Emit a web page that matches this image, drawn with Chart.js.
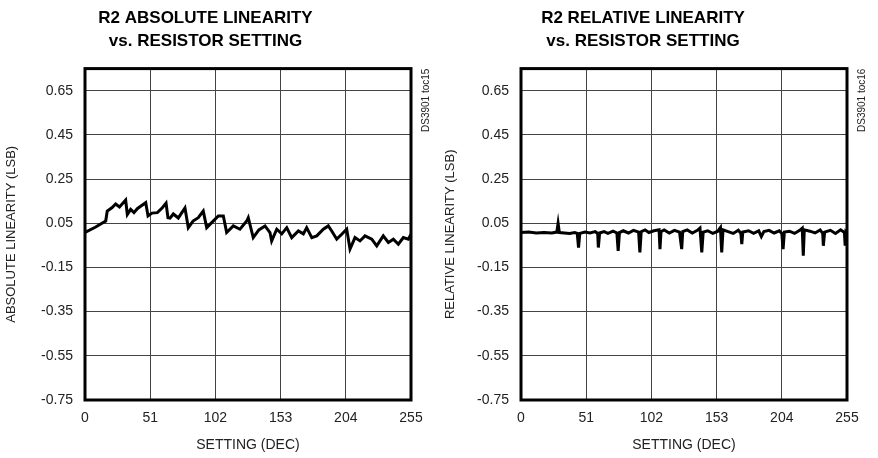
<!DOCTYPE html>
<html>
<head>
<meta charset="utf-8">
<script src="https://cdn.jsdelivr.net/npm/chart.js@4/dist/chart.umd.min.js"></script>
<style>
  body { margin: 0; background: #fff; }
  #wrap { position: relative; width: 878px; height: 458px; }
  canvas { position: absolute; top: 0; }
</style>
</head>
<body>
<div id="wrap">
  <canvas id="absChart" width="439" height="458" style="left:0"></canvas>
  <canvas id="relChart" width="439" height="458" style="left:439px"></canvas>
</div>
<script>
const FONT = '"Liberation Sans Narrow", "Arial Narrow", "Liberation Sans", Arial, sans-serif';

const xTicks = [0, 51, 102, 153, 204, 255];
const yTicks = [-0.75, -0.55, -0.35, -0.15, 0.05, 0.25, 0.45, 0.65, 0.75];

// R2 absolute linearity
const absSetting = [0, 8, 16.2, 17.4, 21, 24, 27, 31.8, 33.1, 35.7, 38.3, 40.9, 43.8, 47.5, 49.3, 52.4, 56.6, 60.5, 63.4,
  64.9, 66.5, 69.1, 73, 78.2, 80.8, 84.5, 88.6, 92.5, 95.2, 99.1, 104.3, 108.2, 110.8, 116, 121.2, 126.5, 127.7,
  131.6, 136, 140.8, 144.7, 146, 150, 153.9, 157.8, 161.7, 166.9, 170.8, 173.4, 177.4, 181.3, 186.4, 190.3, 193,
  196.9, 200.8, 204.7, 207.3, 211.2, 215.1, 219, 224.3, 228.2, 233.3, 237.3, 241.2, 245.1, 249, 252.9, 255];
const absLsb = [0.008, 0.032, 0.060, 0.105, 0.120, 0.137, 0.124, 0.155, 0.090, 0.113, 0.098, 0.116, 0.128, 0.143, 0.083, 0.096, 0.098, 0.120, 0.141,
  0.075, 0.073, 0.092, 0.074, 0.119, 0.030, 0.060, 0.075, 0.105, 0.030, 0.053, 0.083, 0.083, 0.008, 0.038, 0.023, 0.060, 0.075,
  -0.015, 0.020, 0.038, 0.008, -0.030, 0.023, 0.002, 0.030, -0.015, 0.015, 0.002, 0.030, -0.015, -0.007, 0.023, 0.038, 0.015,
  -0.022, 0.000, 0.023, -0.067, -0.015, -0.030, -0.007, -0.022, -0.052, -0.007, -0.037, -0.022, -0.045, -0.015, -0.022, 0.000];

// R2 relative linearity
const relSetting = [0, 6, 12, 18, 24, 28, 29, 30, 34, 38, 42, 44, 45, 46, 50, 54, 58, 60, 60.5, 61.5, 65, 68, 72, 75, 76, 77,
  80, 84, 88, 92, 93, 94, 97, 100, 104, 108, 108.7, 109.5, 112, 116, 120, 124, 125.7, 126.5, 130, 134, 138, 140, 141.4, 142.5,
  146, 150, 154, 156, 157, 158, 162, 166, 170, 172, 172.7, 173.5, 178, 182, 186, 188, 190, 194, 198, 202, 204, 205, 206,
  210, 214, 218, 220, 220.8, 221.6, 226, 230, 234, 236, 236.5, 237.5, 242, 246, 250, 253, 253.5, 254.2, 255];
const relLsb = [0.008, 0.010, 0.006, 0.008, 0.006, 0.010, 0.050, 0.008, 0.006, 0.004, 0.008, 0.004, -0.060, 0.004, 0.010, 0.006, 0.012, 0.004, -0.060, 0.006, 0.012, 0.004, 0.014, 0.006, -0.075, 0.008,
  0.016, 0.006, 0.018, 0.010, -0.082, 0.012, 0.020, 0.008, 0.016, 0.020, -0.067, 0.012, 0.020, 0.006, 0.018, 0.010, -0.067, 0.012, 0.020, 0.006, 0.018, 0.028, -0.082, 0.010,
  0.016, 0.004, 0.014, 0.030, -0.082, 0.020, 0.012, 0.004, 0.018, 0.004, -0.045, 0.010, 0.016, 0.004, 0.016, -0.010, 0.012, 0.018, 0.006, 0.016, 0.004, -0.067, 0.010,
  0.014, 0.004, 0.018, 0.028, -0.097, 0.020, 0.014, 0.006, 0.020, 0.004, -0.052, 0.010, 0.018, 0.004, 0.020, 0.008, -0.045, 0.012, 0.008];

// thick frame round the plot + the small rotated doc code
const framePlugin = {
  id: "frame",
  afterDraw(chart, args, opts) {
    const { ctx, chartArea: a } = chart;
    ctx.save();
    ctx.strokeStyle = "#000";
    ctx.lineWidth = 3;
    ctx.strokeRect(a.left, a.top, a.right - a.left, a.bottom - a.top);
    ctx.translate(a.right + 15, a.top);
    ctx.rotate(-Math.PI / 2);
    ctx.font = "10px " + FONT;
    ctx.fillStyle = "#222";
    ctx.textAlign = "right";
    ctx.textBaseline = "middle";
    ctx.fillText(opts.code, 0, 0);
    ctx.restore();
  },
};

const makeChart = (id, title, yLabel, code, xs, ys, leftW, rightPad) => {
  const ctx = document.getElementById(id).getContext("2d");
  return new Chart(ctx, {
    type: "line",
    data: {
      datasets: [
        {
          data: xs.map((x, i) => ({ x: x, y: ys[i] })),
          borderColor: "#000",
          borderWidth: 3,
          pointRadius: 0,
          tension: 0,
          fill: false,
        },
      ],
    },
    plugins: [framePlugin],
    options: {
      responsive: false,
      animation: false,
      layout: { padding: { left: 0, right: rightPad, top: 0, bottom: 0 } },
      plugins: {
        legend: { display: false },
        tooltip: { enabled: false },
        frame: { code: code },
        title: {
          display: true,
          text: title,
          color: "#000",
          font: { family: FONT, size: 17, weight: "bold", lineHeight: 1.4 },
          padding: { top: 6, bottom: 15 },
        },
      },
      scales: {
        x: {
          type: "linear",
          min: 0,
          max: 255,
          afterBuildTicks: (axis) => {
            axis.ticks = xTicks.map((v) => ({ value: v }));
          },
          afterFit: (axis) => {
            axis.height = 58;
          },
          grid: { color: "#444", lineWidth: 1, drawTicks: false },
          border: { display: false },
          ticks: { color: "#222", padding: 10, font: { family: FONT, size: 14 }, maxRotation: 0 },
          title: {
            display: true,
            text: "SETTING (DEC)",
            color: "#222",
            font: { family: FONT, size: 14 },
            padding: { top: 4 },
          },
        },
        y: {
          min: -0.75,
          max: 0.75,
          afterBuildTicks: (axis) => {
            axis.ticks = yTicks.map((v) => ({ value: v }));
          },
          afterFit: (axis) => {
            axis.width = leftW;
          },
          grid: { color: "#444", lineWidth: 1, drawTicks: false },
          border: { display: false },
          ticks: {
            color: "#222",
            padding: 12,
            font: { family: FONT, size: 14 },
            callback: (v) => (v > 0.7 ? "" : v.toFixed(2)),
          },
          title: {
            display: true,
            text: yLabel,
            color: "#222",
            font: { family: FONT, size: 13 },
          },
        },
      },
    },
  });
};

makeChart("absChart", ["R2 ABSOLUTE LINEARITY", "vs. RESISTOR SETTING"], "ABSOLUTE LINEARITY (LSB)",
  "DS3901 toc15", absSetting, absLsb, 85, 28);
makeChart("relChart", ["R2 RELATIVE LINEARITY", "vs. RESISTOR SETTING"], "RELATIVE LINEARITY (LSB)",
  "DS3901 toc16", relSetting, relLsb, 82, 31);
</script>
</body>
</html>
